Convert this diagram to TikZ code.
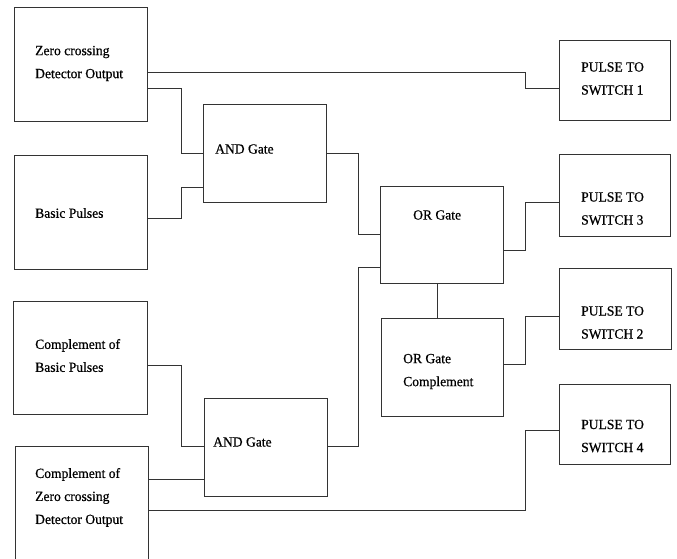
\documentclass[tikz,border=0pt]{standalone}
\usepackage{fontspec}
\setmainfont{Liberation Serif}[FakeBold=0.6, FakeStretch=0.97]

\begin{document}
\begin{tikzpicture}[
    x=1pt, y=-1pt,
    block/.style={rectangle, draw=black!80, line width=0.8pt, inner sep=0pt},
    note/.style={anchor=west, align=left, inner sep=0pt, font=\fontsize{14}{23}\selectfont},
    wire/.style={draw=black!80, line width=0.8pt}
]
\useasboundingbox (0,0) rectangle (677,558);
\clip (0,0) rectangle (677,558);

\node [block, minimum width=133pt, minimum height=114pt] (zcd) at (80.5,64) {};
\node [block, minimum width=133pt, minimum height=114pt] (basic) at (80.5,212) {};
\node [block, minimum width=134pt, minimum height=113pt] (cbasic) at (80,357.5) {};
\node [block, minimum width=133pt, minimum height=124pt] (czcd) at (81.5,508) {};
\node [block, minimum width=123pt, minimum height=98pt] (and1) at (264.5,153) {};
\node [block, minimum width=123pt, minimum height=98pt] (and2) at (265.5,447) {};
\node [block, minimum width=123pt, minimum height=97pt] (or) at (441.5,234.5) {};
\node [block, minimum width=122pt, minimum height=98pt] (orc) at (442,367) {};
\node [block, minimum width=111pt, minimum height=80pt] (sw1) at (614.5,80) {};
\node [block, minimum width=111pt, minimum height=82pt] (sw3) at (614.5,195) {};
\node [block, minimum width=112pt, minimum height=81pt] (sw2) at (615,308.5) {};
\node [block, minimum width=111pt, minimum height=80pt] (sw4) at (614.5,424) {};

\node [note] (zcd-t) at (35,63.5) {Zero crossing\\Detector Output};
\node [note] (basic-t) at (35,213) {Basic Pulses};
\node [note] (cbasic-t) at (35,355.5) {Complement of\\Basic Pulses};
\node [note] (czcd-t) at (35,497.5) {Complement of\\Zero crossing\\Detector Output};
\node [note] (and1-t) at (215,149) {AND Gate};
\node [note] (and2-t) at (213,442) {AND Gate};
\node [note] (or-t) at (413,215) {OR Gate};
\node [note] (orc-t) at (403,371.5) {OR Gate\\Complement};
\node [note] (sw1-t) at (581,78.5) {PULSE TO\\SWITCH 1};
\node [note] (sw3-t) at (581,208.5) {PULSE TO\\SWITCH 3};
\node [note] (sw2-t) at (581,322.5) {PULSE TO\\SWITCH 2};
\node [note] (sw4-t) at (581,436) {PULSE TO\\SWITCH 4};

\path [wire] (zcd.east |- 0,72) -- (525,72) |- (sw1.west |- 0,88);
\path [wire] (zcd.east |- 0,88) -- (181,88) |- (and1.west |- 0,153);
\path [wire] (basic.east |- 0,218) -- (181,218) |- (and1.west |- 0,187);
\path [wire] (cbasic.east |- 0,365) -- (181,365) |- (and2.west |- 0,446);
\path [wire] (czcd.east |- 0,479) -- (and2.west |- 0,479);
\path [wire] (czcd.east |- 0,510) -- (525,510) |- (sw4.west |- 0,430);
\path [wire] (and1.east |- 0,153) -- (358,153) |- (or.west |- 0,234);
\path [wire] (and2.east |- 0,446) -- (358,446) |- (or.west |- 0,267);
\path [wire] (or.east |- 0,250) -- (525,250) |- (sw3.west |- 0,202);
\path [wire] (or.south -| 437,0) -- (orc.north -| 437,0);
\path [wire] (orc.east |- 0,364) -- (525,364) |- (sw2.west |- 0,316);

\end{tikzpicture}
\end{document}
